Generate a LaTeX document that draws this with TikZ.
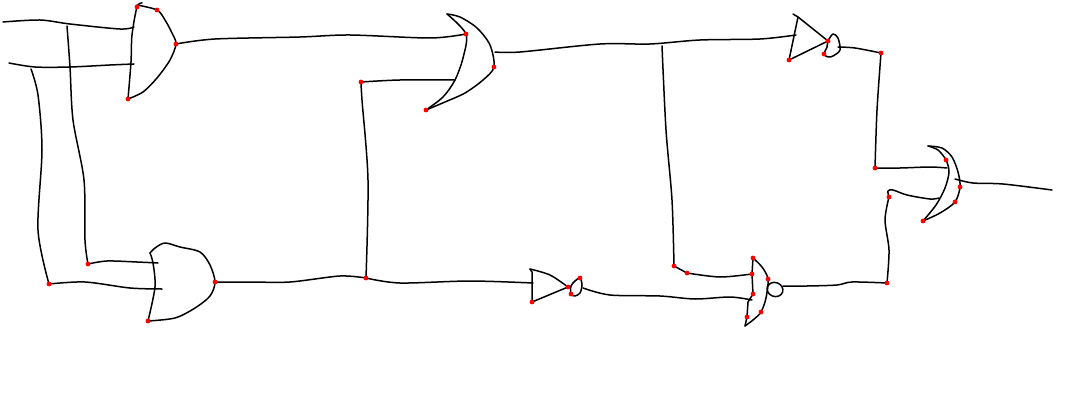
\documentclass[tikz,border=0pt]{standalone}
\tikzset{
  wire/.style={line width=1.5pt,line cap=round,line join=round,black},
}
\begin{document}
\begin{tikzpicture}[x=1pt,y=-1pt]

\useasboundingbox (0,0) rectangle (1081,409);

\def\rr{2.4}

% Red points
\coordinate (andAt) at (137,7);
\coordinate (andAm) at (157,10);
\coordinate (andAo) at (176,44);
\coordinate (andAb) at (128,99);
\coordinate (andBo) at (215,282);
\coordinate (andBb) at (148,321);
\coordinate (jointA) at (88,264);
\coordinate (jointB) at (49,284);
\coordinate (jointC) at (366,278);
\coordinate (jointD) at (361,82);
\coordinate (orAt) at (466,34);
\coordinate (orAm) at (494,67);
\coordinate (orAb) at (426,110);
\coordinate (notAt) at (568,287);
\coordinate (notAb) at (532,302);
\coordinate (bubAt) at (580,278);
\coordinate (bubAb) at (571,294);
\coordinate (notBt) at (828,41);
\coordinate (notBb) at (789,60);
\coordinate (bubBb) at (824,54);
\coordinate (jointE) at (881,53);
\coordinate (jointF) at (875,168);
\coordinate (jointG) at (889,197);
\coordinate (jointH) at (887,283);
\coordinate (jointI) at (674,266);
\coordinate (jointJ) at (687,273);
\coordinate (norT) at (753,258);
\coordinate (norA) at (752,274);
\coordinate (norB) at (753,294);
\coordinate (norC) at (747,317);
\coordinate (norD) at (768,279);
\coordinate (norE) at (761,312);
\coordinate (orBt) at (946,160);
\coordinate (orBm) at (960,187);
\coordinate (orBn) at (955,202);
\coordinate (orBb) at (923,221);

% First AND gate
\draw[wire] plot[smooth] coordinates {(142,3) (andAt) (132,35) (131,62) (andAb)};
\draw[wire] plot[smooth] coordinates {(137,5) (andAm) (165,20) (172,33) (andAo) (170,60) (157,78) (143,92) (andAb)};

% Inputs
\draw[wire] plot[smooth] coordinates {(3,22) (40,20) (70,24) (120,29) (134,27)};
\draw[wire] plot[smooth] coordinates {(9,63) (35,67) (70,67) (110,65) (134,64)};
\draw[wire] plot[smooth] coordinates {(67,26) (70,67) (73,120) (84,180) (85,240) (jointA)};
\draw[wire] plot[smooth] coordinates {(jointA) (107,261) (137,262) (158,263)};
\draw[wire] plot[smooth] coordinates {(31,69) (38,95) (42,150) (38,230) (jointB)};
\draw[wire] plot[smooth] coordinates {(jointB) (85,282) (130,288) (162,289)};

% Second AND gate
\draw[wire] plot[smooth] coordinates {(150,253) (153,263) (155,287) (andBb)};
\draw[wire] plot[smooth] coordinates {(150,253) (155,248) (165,243) (180,247) (200,252) (210,265) (andBo) (210,296) (195,308) (175,318) (andBb)};

% Middle wires
\draw[wire] plot[smooth] coordinates {(andAo) (215,39) (300,37) (350,35) (430,38) (orAt)};
\draw[wire] plot[smooth] coordinates {(andBo) (250,282) (290,282) (340,276) (jointC)};
\draw[wire] plot[smooth] coordinates {(jointC) (400,283) (470,281) (533,283)};
\draw[wire] plot[smooth] coordinates {(jointC) (368,180) (362,100) (jointD)};
\draw[wire] plot[smooth] coordinates {(jointD) (400,80) (455,80)};

% First OR gate
\draw[wire] plot[smooth] coordinates {(447,14) (orAt) (463,58) (455,80) (443,97) (orAb)};
\draw[wire] plot[smooth] coordinates {(447,14) (460,17) (477,28) (490,45) (orAm) (483,80) (465,93) (445,102) (orAb)};
\draw[wire] plot[smooth] coordinates {(495,52) (520,52) (600,44) (650,44) (700,40) (760,39) (796,35)};

% Lower inverter
\draw[wire] (530,269) -- (532,272) -- (notAb) -- (notAt);
\draw[wire] plot[smooth] coordinates {(530,269) (550,275) (notAt)};
\draw[wire] plot[smooth cycle] coordinates {(bubAt) (582,285) (580,293) (575,296) (bubAb) (571,286) (575,281)};
\draw[wire] plot[smooth] coordinates {(583,288) (610,295) (660,296) (695,299) (730,297) (752,300)};

% Upper inverter
\draw[wire] (793,14) -- (798,17) -- (notBb) -- (notBt);
\draw[wire] (798,17) -- (notBt);
\draw[wire] plot[smooth cycle] coordinates {(notBt) (833,34) (838,38) (840,50) (833,56) (828,57) (bubBb) (827,47)};
\draw[wire] plot[smooth] coordinates {(838,47) (855,48) (jointE)};
\draw[wire] plot[smooth] coordinates {(jointE) (877,110) (jointF)};
\draw[wire] plot[smooth] coordinates {(jointF) (900,168) (930,167) (947,168)};

% NOR gate
\draw[wire] plot[smooth] coordinates {(662,46) (666,130) (672,200) (jointI)};
\draw[wire] (jointI) -- (jointJ);
\draw[wire] plot[smooth] coordinates {(jointJ) (720,277) (norA)};
\draw[wire] (norT) -- (norA) -- (norB) -- (748,302) -- (norC) -- (745,326);
\draw[wire] plot[smooth] coordinates {(norT) (762,267) (norD) (766,298) (norE) (753,320) (745,326)};
\draw[wire,rotate around={-20:(775,289.5)}] (775,289.5) ellipse (8 and 7);
\draw[wire] plot[smooth] coordinates {(783,286) (807,286) (837,285) (852,282) (jointH)};
\draw[wire] plot[smooth] coordinates {(jointH) (889,250) (885,220) (jointG)};
\draw[wire] plot[smooth] coordinates {(jointG) (888,191) (893,190) (907,195) (930,199) (939,198)};

% Last OR gate
\draw[wire] plot[smooth] coordinates {(928,146) (938,150) (orBt) (949,172) (945,188) (936,205) (orBb)};
\draw[wire] plot[smooth] coordinates {(928,146) (942,148) (952,157) (958,172) (orBm) (orBn) (940,213) (orBb)};
\draw[wire] plot[smooth] coordinates {(955,179) (973,183) (1003,184) (1052,190)};

% Dots on top
\foreach \p in {andAt,andAm,andAo,andAb,andBo,andBb,jointA,jointB,jointC,jointD,orAt,orAm,orAb,notAt,notAb,bubAt,bubAb,notBt,notBb,bubBb,jointE,jointF,jointG,jointH,jointI,jointJ,norT,norA,norB,norC,norD,norE,orBt,orBm,orBn,orBb}
  \fill[red] (\p) circle(\rr);

\end{tikzpicture}
\end{document}
